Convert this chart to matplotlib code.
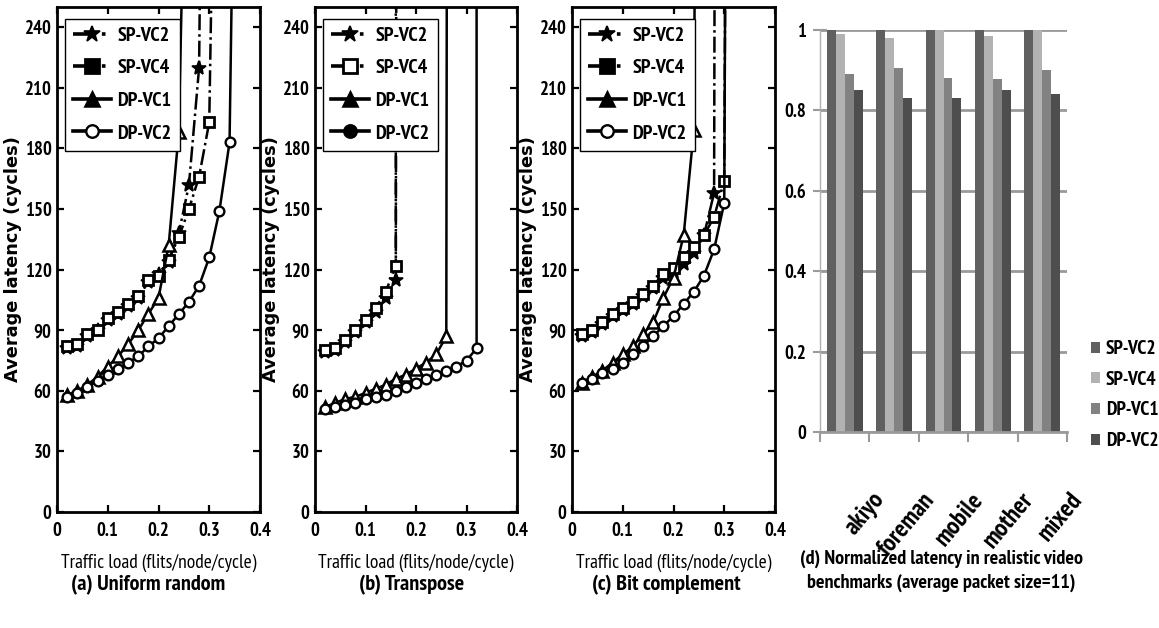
import numpy as np
import matplotlib
matplotlib.use("Agg")
import matplotlib.pyplot as plt
from matplotlib.lines import Line2D
from matplotlib.patches import Patch

# ---------------------------------------------------------------------------
# Data
# ---------------------------------------------------------------------------
SERIES = ["SP-VC2", "SP-VC4", "DP-VC1", "DP-VC2"]

# (a) Uniform random
load_a_sp2 = [0.02, 0.04, 0.06, 0.08, 0.10, 0.12, 0.14, 0.16, 0.18, 0.20, 0.22, 0.24, 0.26, 0.28]
lat_a_sp2  = [81, 82, 87, 90, 95, 98, 102, 106, 114, 118, 124, 138, 162, 220]
load_a_sp4 = [0.02, 0.04, 0.06, 0.08, 0.10, 0.12, 0.14, 0.16, 0.18, 0.20, 0.22, 0.24, 0.26, 0.28, 0.30]
lat_a_sp4  = [82, 83, 88, 90, 96, 99, 103, 107, 115, 117, 125, 136, 150, 166, 193]
load_a_dp1 = [0.02, 0.04, 0.06, 0.08, 0.10, 0.12, 0.14, 0.16, 0.18, 0.20, 0.22, 0.24]
lat_a_dp1  = [58, 60, 63, 67, 72, 77, 83, 90, 98, 106, 132, 188]
load_a_dp2 = [0.02, 0.04, 0.06, 0.08, 0.10, 0.12, 0.14, 0.16, 0.18, 0.20, 0.22, 0.24, 0.26, 0.28, 0.30, 0.32, 0.34]
lat_a_dp2  = [57, 59, 62, 65, 68, 71, 74, 77, 82, 86, 92, 98, 104, 112, 126, 149, 183]
sat_a      = [0.282, 0.305, 0.247, 0.345]     # saturation load per series

# (b) Transpose
load_b_sp2 = [0.02, 0.04, 0.06, 0.08, 0.10, 0.12, 0.14, 0.16]
lat_b_sp2  = [79, 80, 84, 89, 94, 99, 106, 115]
load_b_sp4 = [0.02, 0.04, 0.06, 0.08, 0.10, 0.12, 0.14, 0.16]
lat_b_sp4  = [80, 81, 85, 90, 95, 101, 109, 122]
load_b_dp1 = [0.02, 0.04, 0.06, 0.08, 0.10, 0.12, 0.14, 0.16, 0.18, 0.20, 0.22, 0.24, 0.26]
lat_b_dp1  = [52, 54, 56, 57, 59, 61, 63, 66, 68, 71, 74, 78, 87]
load_b_dp2 = [0.02, 0.04, 0.06, 0.08, 0.10, 0.12, 0.14, 0.16, 0.18, 0.20, 0.22, 0.24, 0.26, 0.28, 0.30, 0.32]
lat_b_dp2  = [51, 52, 53, 54, 56, 57, 58, 60, 62, 64, 66, 68, 70, 72, 75, 81]
sat_b      = [0.161, 0.16, 0.261, 0.32]

# (c) Bit complement
load_c_sp2 = [0.02, 0.04, 0.06, 0.08, 0.10, 0.12, 0.14, 0.16, 0.18, 0.20, 0.22, 0.24, 0.26, 0.28]
lat_c_sp2  = [87, 89, 93, 97, 100, 103, 107, 111, 116, 119, 123, 128, 137, 158]
load_c_sp4 = [0.02, 0.04, 0.06, 0.08, 0.10, 0.12, 0.14, 0.16, 0.18, 0.20, 0.22, 0.24, 0.26, 0.28, 0.30]
lat_c_sp4  = [88, 90, 94, 98, 101, 104, 108, 112, 118, 121, 126, 131, 137, 146, 164]
load_c_dp1 = [0.02, 0.04, 0.06, 0.08, 0.10, 0.12, 0.14, 0.16, 0.18, 0.20, 0.22, 0.24]
lat_c_dp1  = [64, 67, 70, 74, 78, 82, 88, 94, 106, 116, 137, 189]
load_c_dp2 = [0.02, 0.04, 0.06, 0.08, 0.10, 0.12, 0.14, 0.16, 0.18, 0.20, 0.22, 0.24, 0.26, 0.28, 0.30]
lat_c_dp2  = [64, 66, 69, 71, 74, 78, 82, 87, 92, 97, 103, 109, 117, 130, 153]
sat_c      = [0.281, 0.302, 0.242, 0.302]

# (d) Normalized latency, video benchmarks
benchmarks = ["akiyo", "foreman", "mobile", "mother", "mixed"]
norm_sp2   = [1.00, 1.00, 1.00, 1.00, 1.00]
norm_sp4   = [0.99, 0.98, 1.00, 0.985, 1.00]
norm_dp1   = [0.89, 0.905, 0.88, 0.877, 0.90]
norm_dp2   = [0.85, 0.83, 0.83, 0.85, 0.84]

# ---------------------------------------------------------------------------
# Styles
# ---------------------------------------------------------------------------
NARROW = ["PT Sans Narrow", "Archivo Narrow", "Asap Condensed", "DejaVu Sans"]
plt.rcParams["font.family"] = NARROW

LINE_STYLE = {
    "SP-VC2": dict(ls="-.", marker="*", ms=10, mfc="black", mec="black", mew=1.2, lw=1.8),
    "SP-VC4": dict(ls="-.", marker="s", ms=7.5, mfc="white", mec="black", mew=2.0, lw=1.8),
    "DP-VC1": dict(ls="-",  marker="^", ms=8.5, mfc="white", mec="black", mew=1.8, lw=1.8),
    "DP-VC2": dict(ls="-",  marker="o", ms=7, mfc="white", mec="black", mew=1.7, lw=1.8),
}
BAR_COLORS = ["#606060", "#b2b2b2", "#828282", "#4e4e4e"]
Y_TOP = 250

W, H = 1159, 628
fig = plt.figure(figsize=(W / 100, H / 100), dpi=100)


def px_axes(left, top, right, bottom):
    return fig.add_axes([left / W, 1 - bottom / H, (right - left) / W, (bottom - top) / H])


def latency_panel(ax, runs, sats, caption, cap_dx, legend_fill):
    for name, (x, y), sat in zip(SERIES, runs, sats):
        xs = list(x) + [sat]
        ys = list(y) + [Y_TOP + 20]
        ax.plot(xs, ys, color="black", markevery=list(range(len(x))), **LINE_STYLE[name])
    ax.set_xlim(0, 0.4)
    ax.set_ylim(0, Y_TOP)
    ax.set_xticks([0, 0.1, 0.2, 0.3, 0.4])
    ax.set_xticklabels(["0", "0.1", "0.2", "0.3", "0.4"])
    ax.set_yticks(range(0, 241, 30))
    ax.tick_params(direction="in", length=5, width=1.6, top=True, right=True,
                   labelsize=13.5)
    ax.tick_params(axis="x", pad=7)
    ax.tick_params(axis="y", pad=4)
    for lab in ax.get_xticklabels() + ax.get_yticklabels():
        lab.set_fontweight("bold")
    for sp in ax.spines.values():
        sp.set_linewidth(2.0)
    ax.set_ylabel("Average latency (cycles)", family="DejaVu Sans",
                  fontweight="bold", fontsize=12.8)
    ax.yaxis.label.set_va("center")
    ax.yaxis.set_label_coords(-0.218, 0.5)
    ax.set_xlabel("Traffic load (flits/node/cycle)", fontsize=14, labelpad=10)
    ax.text(0.5 + cap_dx, -0.145, caption, transform=ax.transAxes, ha="center",
            va="center", fontsize=16, fontweight="bold")

    handles = []
    for name, filled in zip(SERIES, legend_fill):
        st = dict(LINE_STYLE[name])
        st["mfc"] = "black" if filled else "white"
        st["ms"] = st["ms"] + 2
        st["lw"] = 2.6
        handles.append(Line2D([], [], color="black", **st))
    leg = ax.legend(handles, SERIES, loc="upper left", bbox_to_anchor=(0.02, 0.985),
                    fontsize=14.5, handlelength=1.9, handletextpad=0.3,
                    labelspacing=0.72, borderpad=0.4, fancybox=False,
                    framealpha=1, edgecolor="black", borderaxespad=0.2)
    leg.get_frame().set_linewidth(1.0)
    for t in leg.get_texts():
        t.set_fontweight("bold")


ax_a = px_axes(57, 7, 260, 512)
latency_panel(ax_a,
              [(load_a_sp2, lat_a_sp2), (load_a_sp4, lat_a_sp4),
               (load_a_dp1, lat_a_dp1), (load_a_dp2, lat_a_dp2)],
              sat_a, "(a) Uniform random", -0.05, [True, True, True, False])

ax_b = px_axes(315, 7, 517, 512)
latency_panel(ax_b,
              [(load_b_sp2, lat_b_sp2), (load_b_sp4, lat_b_sp4),
               (load_b_dp1, lat_b_dp1), (load_b_dp2, lat_b_dp2)],
              sat_b, "(b) Transpose", -0.02, [True, False, True, True])

ax_c = px_axes(572, 7, 775, 512)
latency_panel(ax_c,
              [(load_c_sp2, lat_c_sp2), (load_c_sp4, lat_c_sp4),
               (load_c_dp1, lat_c_dp1), (load_c_dp2, lat_c_dp2)],
              sat_c, "(c) Bit complement", -0.035, [True, True, True, False])

# ---------------------------------------------------------------------------
# (d) bar chart
# ---------------------------------------------------------------------------
ax_d = px_axes(820, 30, 1067, 432)
idx = np.arange(len(benchmarks))
bw = 0.182
for k, (vals, col) in enumerate(zip([norm_sp2, norm_sp4, norm_dp1, norm_dp2], BAR_COLORS)):
    ax_d.bar(idx + (k - 1.5) * bw, vals, width=bw, color=col, edgecolor="none",
             label=SERIES[k], zorder=2)
ax_d.set_xlim(-0.5, len(benchmarks) - 0.5)
ax_d.set_ylim(0, 1)
ax_d.set_yticks([0, 0.2, 0.4, 0.6, 0.8, 1])
ax_d.set_yticklabels(["0", "0.2", "0.4", "0.6", "0.8", "1"], fontsize=13.5, fontweight="bold")
ax_d.set_axisbelow(True)
ax_d.grid(axis="y", color="#9a9a9a", lw=2.0)
ax_d.tick_params(axis="y", direction="inout", length=10, width=1.5, color="#9a9a9a", pad=5)
ax_d.set_xticks(idx)
ax_d.set_xticklabels([])
ax_d.set_xticks(np.arange(-0.5, len(benchmarks)), minor=True)
ax_d.tick_params(axis="x", which="major", length=0)
ax_d.tick_params(axis="x", which="minor", direction="out", length=7, width=1.5, color="#9a9a9a")
for side in ["top", "right"]:
    ax_d.spines[side].set_visible(False)
ax_d.spines["left"].set_color("#b0b0b0")
ax_d.spines["left"].set_linewidth(1.0)
ax_d.spines["bottom"].set_color("#9a9a9a")
ax_d.spines["bottom"].set_linewidth(2.0)

for i, name in enumerate(benchmarks):
    ax_d.text(i + 0.55, -0.14, name, transform=ax_d.get_xaxis_transform(),
              rotation=50, rotation_mode="anchor", ha="right", va="top",
              fontsize=18, fontweight="bold")

fig.text(941 / W, 1 - 571 / H,
         "(d) Normalized latency in realistic video\nbenchmarks (average packet size=11)",
         ha="center", va="center", fontsize=14.5, fontweight="bold", linespacing=1.45)

bar_handles = [Patch(facecolor=c, edgecolor="none") for c in BAR_COLORS]
fig.legend(bar_handles, SERIES, loc="center left", bbox_to_anchor=(1073 / W, 1 - 395 / H),
           frameon=False, handlelength=0.5, handleheight=0.5,
           handletextpad=0.3, labelspacing=0.65,
           prop={"weight": "bold", "size": 14, "family": NARROW})

fig.savefig("out.png", dpi=100)
